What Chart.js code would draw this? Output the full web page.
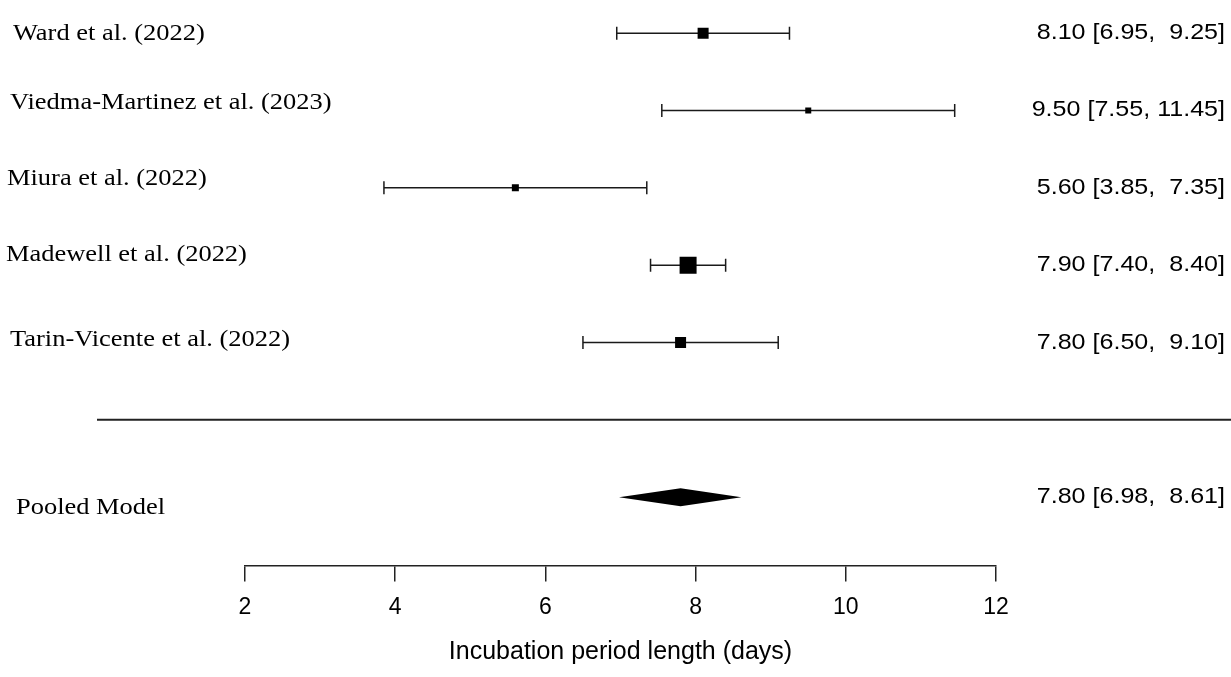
<!DOCTYPE html>
<html>
<head>
<meta charset="utf-8">
<title>Incubation period – forest plot</title>
<script src="https://cdn.jsdelivr.net/npm/chart.js@4.4.1/dist/chart.umd.min.js"></script>
<style>
  html, body { margin: 0; padding: 0; background: #fff; }
  #wrap { width: 1231px; height: 677px; }
</style>
</head>
<body>
<div id="wrap"><canvas id="forest" width="1231" height="677"></canvas></div>
<script>
// ===== Studii (estimare + interval) =====
const studies = [
  "Ward et al. (2022)",
  "Viedma-Martinez et al. (2023)",
  "Miura et al. (2022)",
  "Madewell et al. (2022)",
  "Tarin-Vicente et al. (2022)"
];
const estimates = [8.10, 9.50, 5.60, 7.90, 7.80];
const lower = [6.95, 7.55, 3.85, 7.40, 6.50];
const upper = [9.25, 11.45, 7.35, 8.40, 9.10];

// ===== Model agregat =====
const pooledLabel = "Pooled Model";
const pooledEst = 7.80;
const pooledLo = 6.98;
const pooledHi = 8.61;

// ===== Axa x =====
const xTicks = [2, 4, 6, 8, 10, 12];
const xTitle = "Incubation period length (days)";

// ===== Stil =====
const INK = "#1a1a1a";
const SERIF = "'Liberation Serif', 'Times New Roman', serif";
const SANS = "'Liberation Sans', Arial, sans-serif";
const boxSide = [11, 6, 7, 17, 11];          // latura pătratului (px), după pondere
const labelX = [13, 10, 7, 6, 10];           // poziția etichetelor din stânga
const labelShift = [7, -1, -3, -4, 3];       // baseline față de rând
const pooledRow = 7;
const sepRow = 6;

// text "8.10 [6.95,  9.25]" cu aliniere ca în R
const allNums = [...estimates, ...lower, ...upper, pooledEst, pooledLo, pooledHi];
const numW = Math.max(...allNums.map(v => v.toFixed(2).length));
const fmt = v => v.toFixed(2).padStart(numW, " ");
const ciText = (e, lo, hi) => `${e.toFixed(2)} [${lo.toFixed(2)}, ${fmt(hi)}]`;

function stretchText(ctx, text, x, y, align, font, sx) {
  ctx.save();
  ctx.font = font;
  ctx.fillStyle = "#000";
  ctx.textAlign = align;
  ctx.textBaseline = "alphabetic";
  ctx.translate(x, y);
  ctx.scale(sx, 1);
  ctx.fillText(text, 0, 0);
  ctx.restore();
}

// etichete, coloana din dreapta, linia de separare și rombul
const forestDecor = {
  id: "forestDecor",
  afterDraw(chart) {
    const { ctx, scales: { x, y } } = chart;

    studies.forEach((name, i) => {
      const py = y.getPixelForValue(i + 1);
      stretchText(ctx, name, labelX[i], py + labelShift[i], "left", `23px ${SERIF}`, 1.15);
      stretchText(ctx, ciText(estimates[i], lower[i], upper[i]), 1225, py + 6, "right", `22px ${SANS}`, 1.14);
    });

    // linie separare
    const sy = y.getPixelForValue(sepRow);
    ctx.save();
    ctx.strokeStyle = "#222";
    ctx.lineWidth = 2;
    ctx.beginPath();
    ctx.moveTo(97, sy);
    ctx.lineTo(1231, sy);
    ctx.stroke();

    // romb pentru modelul agregat
    const py = y.getPixelForValue(pooledRow);
    const h = 9;
    ctx.fillStyle = "#000";
    ctx.beginPath();
    ctx.moveTo(x.getPixelForValue(pooledLo), py);
    ctx.lineTo(x.getPixelForValue(pooledEst), py - h);
    ctx.lineTo(x.getPixelForValue(pooledHi), py);
    ctx.lineTo(x.getPixelForValue(pooledEst), py + h);
    ctx.closePath();
    ctx.fill();
    ctx.restore();

    stretchText(ctx, pooledLabel, 16, py + 17, "left", `23px ${SERIF}`, 1.15);
    stretchText(ctx, ciText(pooledEst, pooledLo, pooledHi), 1225, py + 6, "right", `22px ${SANS}`, 1.14);
  }
};

// ===== Seturi de date =====
const boxes = {
  data: estimates.map((v, i) => ({ x: v, y: i + 1 })),
  pointStyle: "rect",
  pointRadius: boxSide.map(s => s / Math.SQRT2),
  pointBackgroundColor: "#000",
  pointBorderWidth: 0,
  showLine: false
};

const whiskers = studies.map((_, i) => ({
  data: [{ x: lower[i], y: i + 1 }, { x: upper[i], y: i + 1 }],
  showLine: true,
  borderColor: INK,
  borderWidth: 1.5,
  pointStyle: "line",
  pointRotation: 90,
  pointRadius: 6.5,
  pointBorderColor: INK,
  pointBorderWidth: 1.5
}));

new Chart(document.getElementById("forest"), {
  type: "scatter",
  data: { datasets: [boxes, ...whiskers] },
  options: {
    responsive: false,
    animation: false,
    events: [],
    layout: { padding: { left: 245, right: 235, top: 0, bottom: 10 } },
    plugins: { legend: { display: false }, tooltip: { enabled: false } },
    scales: {
      y: {
        display: false,
        reverse: true,
        min: 0.7267,
        max: 7.882
      },
      x: {
        type: "linear",
        min: 2,
        max: 12,
        position: "bottom",
        afterBuildTicks: axis => { axis.ticks = xTicks.map(v => ({ value: v })); },
        ticks: {
          color: "#000",
          font: { family: SANS, size: 23 },
          padding: 12,
          autoSkip: false,
          maxRotation: 0
        },
        grid: { drawOnChartArea: false, drawTicks: true, tickLength: 16, color: "#222", lineWidth: 1.5 },
        border: { display: true, color: "#222", width: 1.5 },
        title: {
          display: true,
          text: xTitle,
          color: "#000",
          font: { family: SANS, size: 25 },
          padding: { top: 4, bottom: 0 }
        }
      }
    }
  },
  plugins: [forestDecor]
});
</script>
</body>
</html>
